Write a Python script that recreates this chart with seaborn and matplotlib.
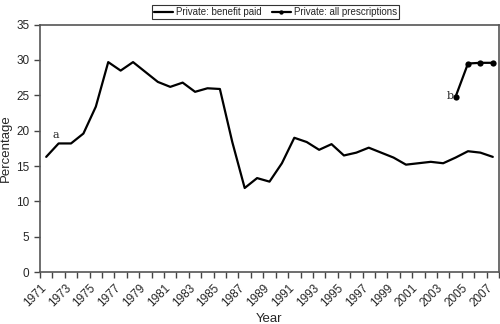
import matplotlib
matplotlib.use("Agg")
import matplotlib.pyplot as plt
import seaborn as sns
import pandas as pd
import numpy as np

# data
years = list(range(1971, 2008))
benefit_paid = [16.3, 18.2, 18.2, 19.6, 23.4, 29.7, 28.5, 29.7, 28.3, 26.9,
                26.2, 26.8, 25.5, 26.0, 25.9, 18.4, 11.9, 13.3, 12.8, 15.4,
                19.0, 18.4, 17.3, 18.1, 16.5, 16.9, 17.6, 16.9, 16.2, 15.2,
                15.4, 15.6, 15.4, 16.2, 17.1, 16.9, 16.3]
all_presc_years = [2004, 2005, 2006, 2007]
all_prescriptions = [24.8, 29.5, 29.6, 29.6]

series_names = ["Private: benefit paid", "Private: all prescriptions"]

df_paid = pd.DataFrame({"Year": years, "Percentage": benefit_paid})
df_all = pd.DataFrame({"Year": all_presc_years, "Percentage": all_prescriptions})

sns.set_style("ticks")
plt.rcParams["font.family"] = ["Liberation Sans", "DejaVu Sans"]

fig = plt.figure(figsize=(5, 3.24), dpi=100)
ax = fig.add_axes([0.08, 0.16, 0.918, 0.764])

sns.lineplot(data=df_paid, x="Year", y="Percentage", color="black",
             linewidth=1.6, label=series_names[0], ax=ax)
sns.lineplot(data=df_all, x="Year", y="Percentage", color="black",
             linewidth=1.6, marker="o", markersize=4.5, markeredgewidth=0,
             label=series_names[1], ax=ax)

ax.set_xlim(1970.5, 2007.5)
ax.set_ylim(0, 35)
ax.set_yticks(range(0, 36, 5))
# ticks sit between the years, labels on every other boundary
bounds = np.arange(1970.5, 2008, 1)
ax.set_xticks(bounds)
ax.set_xticklabels([str(int(b + 0.5)) if i % 2 == 0 and b < 2007 else ""
                    for i, b in enumerate(bounds)],
                   rotation=45, ha="right", rotation_mode="anchor", fontsize=8.5)
ax.tick_params(axis="x", length=4, width=1, color="#444444", pad=3)
ax.tick_params(axis="y", length=4, width=1, color="#444444", labelsize=8.5)

for s in ax.spines.values():
    s.set_color("#555555")
    s.set_linewidth(1.2)

ax.set_xlabel("Year", fontsize=9.5, labelpad=3)
ax.set_ylabel("Percentage", fontsize=9.5, labelpad=3)

ax.text(1971.5, 18.9, "a", family="DejaVu Serif", fontsize=8)
ax.text(2003.25, 24.5, "b", family="DejaVu Serif", fontsize=8)

leg = ax.legend(loc="lower center", bbox_to_anchor=(0.513, 1.01), ncol=2,
                frameon=True, fancybox=False, fontsize=7, handlelength=2.0,
                borderpad=0.2, columnspacing=1.0, handletextpad=0.3,
                borderaxespad=0.3, markerscale=0.7)
leg.get_frame().set_edgecolor("black")
leg.get_frame().set_linewidth(0.8)

fig.savefig("out.png", dpi=100)
